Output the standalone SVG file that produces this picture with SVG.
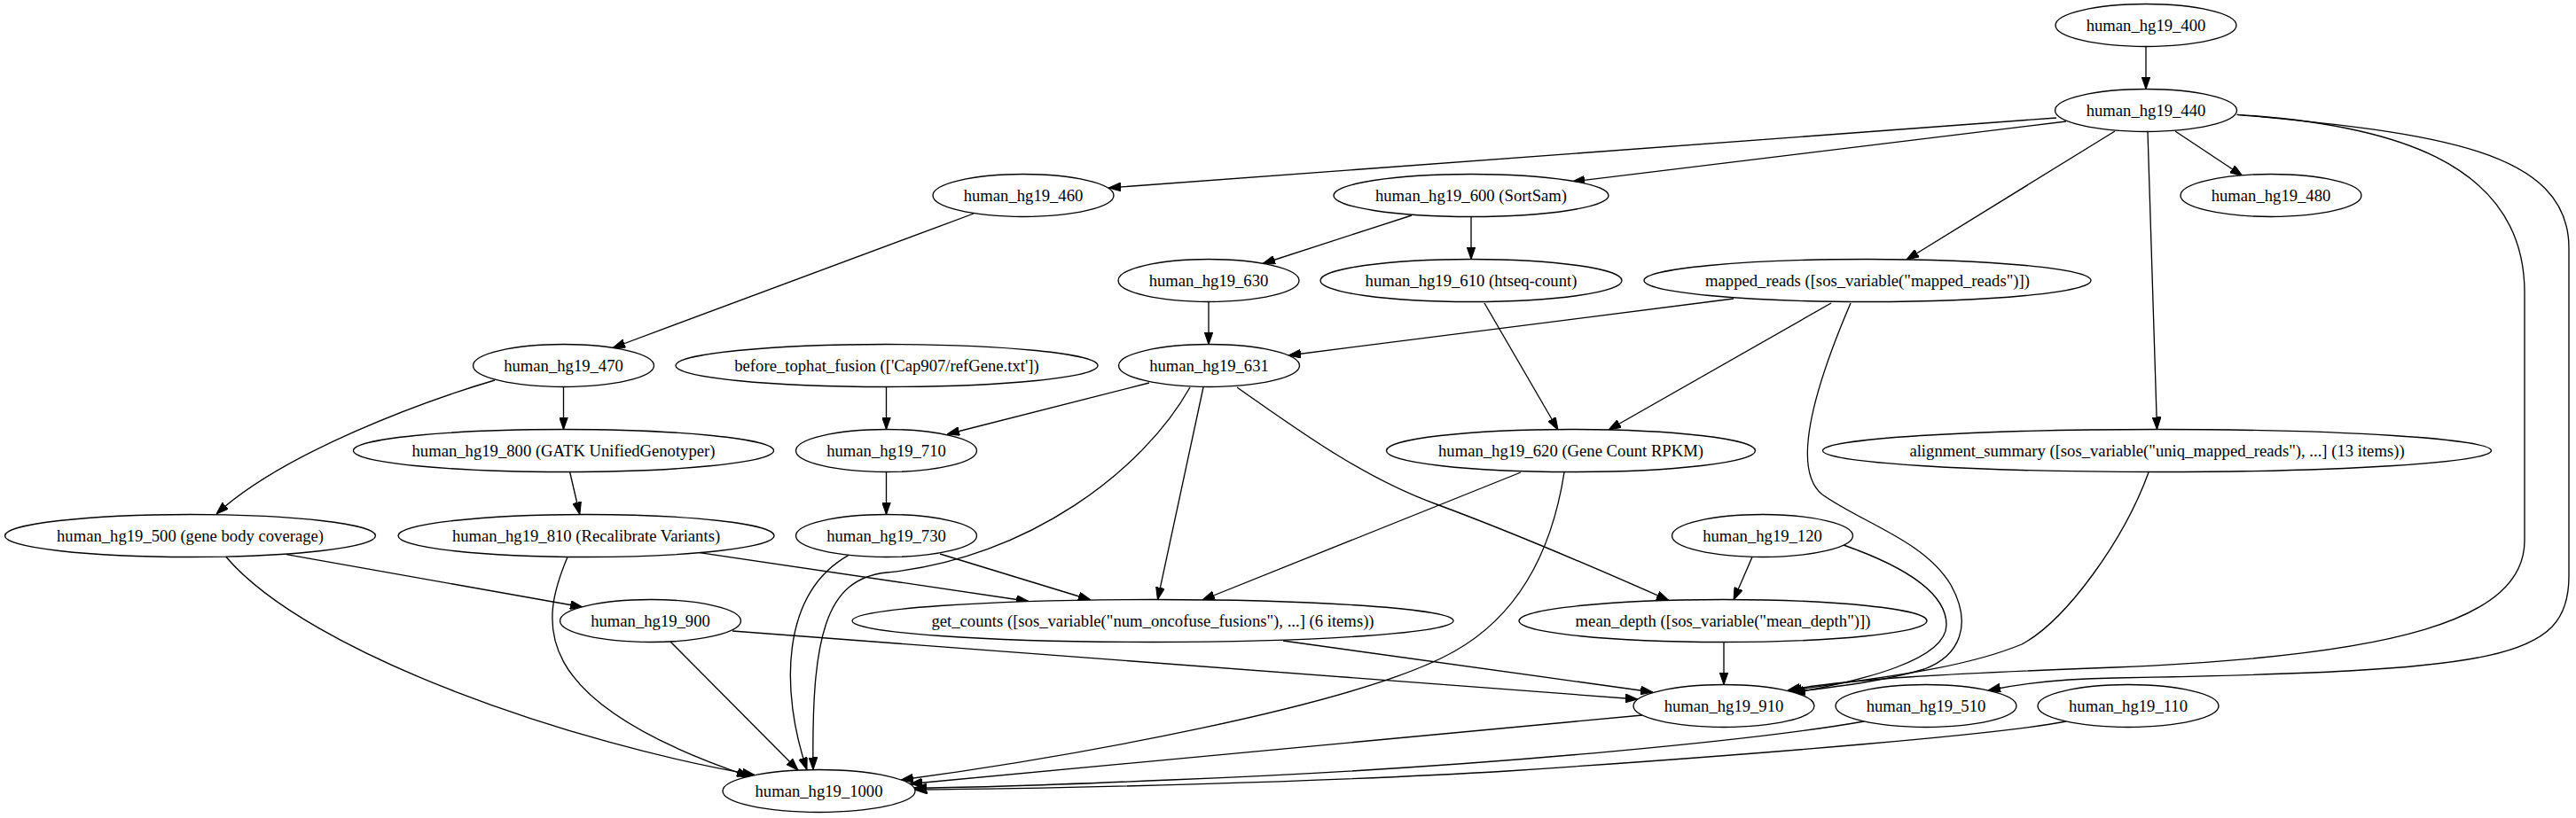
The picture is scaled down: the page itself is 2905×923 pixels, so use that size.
<svg xmlns="http://www.w3.org/2000/svg" width="2905" height="923" viewBox="0 0 2905 923">
<style>
.n ellipse{fill:#fff;stroke:#000;stroke-width:1.33}
.n text{font-family:"Liberation Serif","Times New Roman",serif;font-size:18.67px;text-anchor:middle;fill:#000}
#edges path{fill:none;stroke:#000;stroke-width:1.33;marker-end:url(#arr)}
</style>
<defs>
<marker id="arr" markerUnits="userSpaceOnUse" markerWidth="14" markerHeight="10" viewBox="0 0 13.33 9.33" refX="13.33" refY="4.67" orient="auto">
<path d="M0,0 L13.33,4.67 L0,9.33 z" fill="#000" stroke="#000" stroke-width="1"/>
</marker>
</defs>
<rect width="2905" height="923" fill="#fff"/>
<g id="edges">
<path d="M2420,52.5 L2420,100.5"/>
<path d="M2319,133 L1250,212"/>
<path d="M2330,137 L1773,205"/>
<path d="M2453,148 L2529,198.5"/>
<path d="M2385,148 L2150,293"/>
<path d="M2422,148.5 L2432.5,484.5"/>
<path d="M2522.7,129.3 C2690,140 2847,180 2847,330 L2847,610 C2847,700 2700,740 2385,753 C2200,760 2080,766 2016,779"/>
<path d="M2522.7,129.3 C2750,150 2897,170 2897,280 L2897,650 C2897,745 2820,757 2385,765 C2320,766 2280,771 2242,779"/>
<path d="M1098,241 L691,392.5"/>
<path d="M1592,243 L1424,297.5"/>
<path d="M1659,244.5 L1659,292.5"/>
<path d="M1363,340.5 L1363,388.5"/>
<path d="M1955,337 L1453,401"/>
<path d="M2065,342 L1814,485"/>
<path d="M2087,342 C2045,440 2020,530 2055,558 C2100,590 2170,610 2200,660 C2225,705 2210,740 2170,755 C2120,770 2060,776 2020,781"/>
<path d="M1674,342 L1757,485"/>
<path d="M635.5,436.5 L635.5,484.5"/>
<path d="M558,429 C480,452 320,510 244,580"/>
<path d="M999.5,436.5 L999.5,484.5"/>
<path d="M1296,432 L1068,490"/>
<path d="M1342,437 C1290,530 1160,630 1000,646 C930,653 915,720 917,868.5"/>
<path d="M1357,437 L1305.5,676.7"/>
<path d="M1395,437 C1470,490 1540,540 1620,569 C1720,606 1820,650 1882,677.5"/>
<path d="M642.6,532.5 L653.8,580.5"/>
<path d="M999.5,532.5 L999.5,580.5"/>
<path d="M1715,533 L1356,677"/>
<path d="M1764,533 C1752,610 1720,690 1640,735 C1530,797 1200,855 1016,880"/>
<path d="M2423,533 C2395,610 2330,700 2280,727 C2200,760 2080,768 2018,780"/>
<path d="M323,625.7 L657,685"/>
<path d="M254.6,628 C350,740 650,840 851,874.5"/>
<path d="M789,623.6 L1160,678.5"/>
<path d="M640,628.5 C610,700 590,790 845,876"/>
<path d="M1060,625 L1230,677"/>
<path d="M956.7,626.7 C880,670 880,780 910,868.7"/>
<path d="M1976,628.5 L1955,677"/>
<path d="M2079,615 C2150,640 2195,670 2195,705 C2195,745 2100,768 2022,782"/>
<path d="M826,712 L1847,789"/>
<path d="M756,724 L900,869"/>
<path d="M1447,723 L1864,781"/>
<path d="M1944,724.5 L1944,772.5"/>
<path d="M1852,807 L1026,884.5"/>
<path d="M2102,814 C2000,832 1700,865 1320,880 C1180,886 1080,889 1031,889"/>
<path d="M2330,814 C2260,828 2000,850 1700,870 C1500,882 1200,890 1031.5,891"/>
</g>
<g id="n400" class="n"><ellipse cx="2420" cy="28.5" rx="102" ry="24"/><text x="2420" y="34.5">human_hg19_400</text></g>
<g id="n440" class="n"><ellipse cx="2420" cy="124.5" rx="102.5" ry="24"/><text x="2420" y="130.5">human_hg19_440</text></g>
<g id="n460" class="n"><ellipse cx="1154" cy="220.5" rx="102" ry="24"/><text x="1154" y="226.5">human_hg19_460</text></g>
<g id="n600" class="n"><ellipse cx="1659" cy="220.5" rx="155" ry="24"/><text x="1659" y="226.5">human_hg19_600 (SortSam)</text></g>
<g id="n480" class="n"><ellipse cx="2561" cy="220.5" rx="102" ry="24"/><text x="2561" y="226.5">human_hg19_480</text></g>
<g id="n630" class="n"><ellipse cx="1363" cy="316.5" rx="102" ry="24"/><text x="1363" y="322.5">human_hg19_630</text></g>
<g id="n610" class="n"><ellipse cx="1659" cy="316.5" rx="170" ry="24"/><text x="1659" y="322.5">human_hg19_610 (htseq-count)</text></g>
<g id="nmapped" class="n"><ellipse cx="2106" cy="316.5" rx="252" ry="24"/><text x="2106" y="322.5">mapped_reads ([sos_variable("mapped_reads")])</text></g>
<g id="n470" class="n"><ellipse cx="635.5" cy="412.5" rx="102" ry="24"/><text x="635.5" y="418.5">human_hg19_470</text></g>
<g id="nbefore" class="n"><ellipse cx="1000" cy="412.5" rx="238" ry="24"/><text x="1000" y="418.5">before_tophat_fusion (['Cap907/refGene.txt'])</text></g>
<g id="n631" class="n"><ellipse cx="1363.5" cy="412.5" rx="102" ry="24"/><text x="1363.5" y="418.5">human_hg19_631</text></g>
<g id="n800" class="n"><ellipse cx="635.5" cy="508.5" rx="237" ry="24"/><text x="635.5" y="514.5">human_hg19_800 (GATK UnifiedGenotyper)</text></g>
<g id="n710" class="n"><ellipse cx="999.5" cy="508.5" rx="102" ry="24"/><text x="999.5" y="514.5">human_hg19_710</text></g>
<g id="n620" class="n"><ellipse cx="1771.5" cy="508.5" rx="208" ry="24"/><text x="1771.5" y="514.5">human_hg19_620 (Gene Count RPKM)</text></g>
<g id="nalign" class="n"><ellipse cx="2432.5" cy="508.5" rx="377" ry="24"/><text x="2432.5" y="514.5">alignment_summary ([sos_variable("uniq_mapped_reads"), ...] (13 items))</text></g>
<g id="n500" class="n"><ellipse cx="214.5" cy="604.5" rx="209" ry="24"/><text x="214.5" y="610.5">human_hg19_500 (gene body coverage)</text></g>
<g id="n810" class="n"><ellipse cx="661" cy="604.5" rx="212" ry="24"/><text x="661" y="610.5">human_hg19_810 (Recalibrate Variants)</text></g>
<g id="n730" class="n"><ellipse cx="999.5" cy="604.5" rx="102" ry="24"/><text x="999.5" y="610.5">human_hg19_730</text></g>
<g id="n120" class="n"><ellipse cx="1987.5" cy="604.5" rx="102" ry="24"/><text x="1987.5" y="610.5">human_hg19_120</text></g>
<g id="n900" class="n"><ellipse cx="733.5" cy="700.5" rx="102" ry="24"/><text x="733.5" y="706.5">human_hg19_900</text></g>
<g id="nget" class="n"><ellipse cx="1300" cy="700.5" rx="339" ry="24"/><text x="1300" y="706.5">get_counts ([sos_variable("num_oncofuse_fusions"), ...] (6 items))</text></g>
<g id="nmean" class="n"><ellipse cx="1943" cy="700.5" rx="230" ry="24"/><text x="1943" y="706.5">mean_depth ([sos_variable("mean_depth")])</text></g>
<g id="n910" class="n"><ellipse cx="1944" cy="796.5" rx="102" ry="24"/><text x="1944" y="802.5">human_hg19_910</text></g>
<g id="n510" class="n"><ellipse cx="2172" cy="796.5" rx="102" ry="24"/><text x="2172" y="802.5">human_hg19_510</text></g>
<g id="n110" class="n"><ellipse cx="2400" cy="796.5" rx="102" ry="24"/><text x="2400" y="802.5">human_hg19_110</text></g>
<g id="n1000" class="n"><ellipse cx="923.5" cy="892.5" rx="108.5" ry="24"/><text x="923.5" y="898.5">human_hg19_1000</text></g>
</svg>
